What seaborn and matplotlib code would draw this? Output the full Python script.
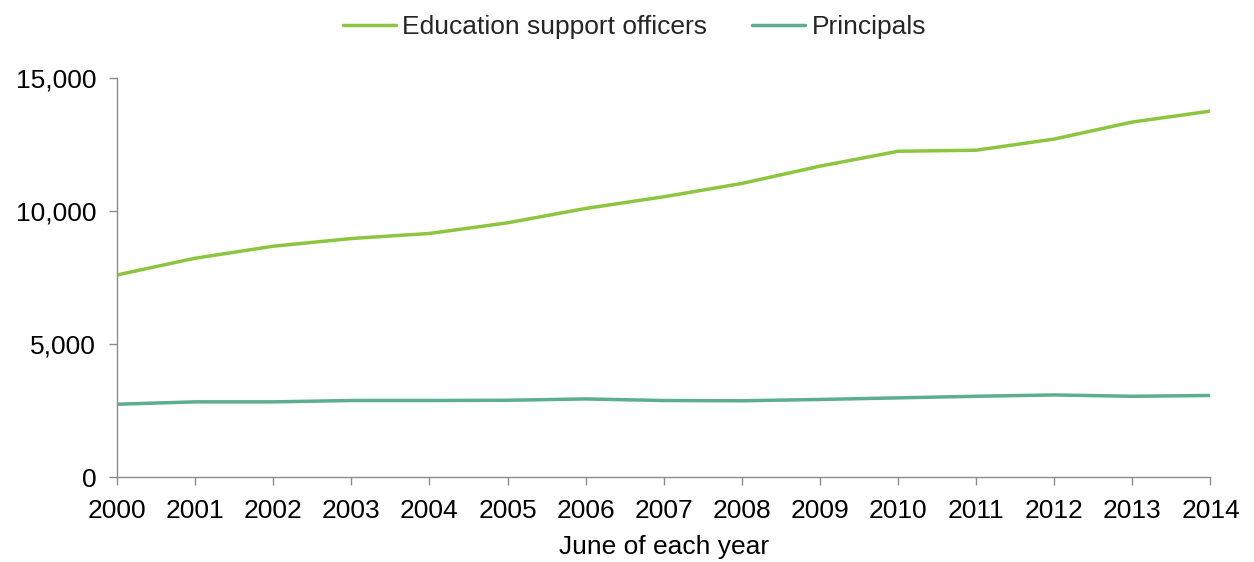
import matplotlib
matplotlib.use("Agg")
import matplotlib.pyplot as plt
import matplotlib.ticker as mticker
import pandas as pd
import seaborn as sns

years = list(range(2000, 2015))
education_support = [7600, 8230, 8680, 8970, 9160, 9560, 10100, 10540,
                     11040, 11690, 12250, 12290, 12710, 13350, 13760]
principals = [2740, 2830, 2830, 2880, 2880, 2890, 2940, 2880,
              2870, 2920, 2980, 3040, 3090, 3040, 3070]
series_names = ["Education support officers", "Principals"]
colors = ["#8cc63f", "#5cae8c"]

df = pd.DataFrame({
    "year": years * 2,
    "value": education_support + principals,
    "series": [series_names[0]] * len(years) + [series_names[1]] * len(years),
})

sns.set_theme(style="white")
plt.rcParams["font.family"] = ["Liberation Sans", "DejaVu Sans"]

fig = plt.figure(figsize=(12.54, 5.62), dpi=100)
ax = fig.add_axes([0.0933, 0.151, 0.872, 0.710])

sns.lineplot(data=df, x="year", y="value", hue="series",
             palette=dict(zip(series_names, colors)), linewidth=2.5,
             ax=ax, legend=True)

ax.set_xlim(2000, 2014)
ax.set_ylim(0, 15000)
ax.set_xticks(years)
ax.set_yticks([0, 5000, 10000, 15000])
ax.yaxis.set_major_formatter(mticker.FuncFormatter(lambda v, p: f"{int(v):,}"))
ax.tick_params(axis="both", labelsize=19, labelcolor="#000000", length=6,
               width=1, direction="out", bottom=True, left=True,
               color="#8c8c8c")
ax.tick_params(axis="x", pad=9.5)
ax.tick_params(axis="y", pad=9)
for side in ["top", "right"]:
    ax.spines[side].set_visible(False)
for side in ["left", "bottom"]:
    ax.spines[side].set_color("#8c8c8c")
    ax.spines[side].set_linewidth(1)

ax.set_xlabel("June of each year", fontsize=19, color="#000000", labelpad=9)
ax.set_ylabel("")

handles, labels = ax.get_legend_handles_labels()
ax.legend(handles, labels, loc="center", bbox_to_anchor=(0.506, 0.952),
          bbox_transform=fig.transFigure, ncol=2, frameon=False,
          fontsize=19, handlelength=2.0, handletextpad=0.25,
          columnspacing=1.7, borderpad=0)

fig.savefig("out.png", dpi=100, facecolor="white")
